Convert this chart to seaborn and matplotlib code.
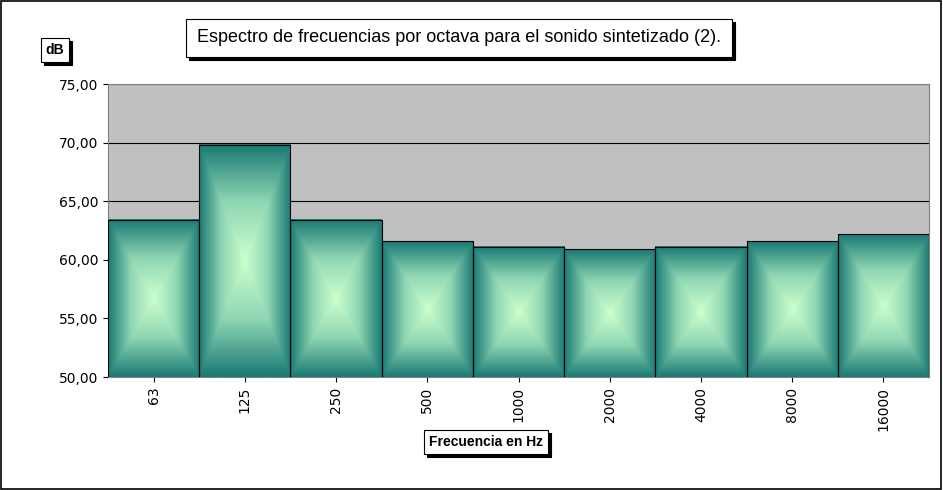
import numpy as np
import pandas as pd
import matplotlib
matplotlib.use("Agg")
import matplotlib.pyplot as plt
import seaborn as sns
from matplotlib.colors import LinearSegmentedColormap
from matplotlib.patches import Rectangle

freqs = ["63", "125", "250", "500", "1000", "2000", "4000", "8000", "16000"]
levels = [63.4, 69.8, 63.4, 61.6, 61.1, 60.9, 61.1, 61.6, 62.2]

df = pd.DataFrame({"freq": freqs, "dB": levels})

fig = plt.figure(figsize=(9.43, 4.9), dpi=100)
fig.patch.set_facecolor("white")
ax = fig.add_axes([108/943, 1 - 377/490, 821/943, 293/490])
ax.set_facecolor("#c0c0c0")

sns.barplot(data=df, x="freq", y="dB", width=1.0, color="#1f7f78",
            edgecolor="black", linewidth=0.8, ax=ax)

ymin, ymax = 50, 75
# box gradient fill: teal edges -> pale green centre
cmap = LinearSegmentedColormap.from_list("g", ["#ccffcc", "#8fd6b4", "#1a7a74"])
n = 200
u = np.linspace(-1, 1, n)
X, Y = np.meshgrid(u, u)
grad = np.maximum(np.abs(X), np.abs(Y))
for p in ax.patches:
    x0, w, top = p.get_x(), p.get_width(), p.get_y() + p.get_height()
    ax.imshow(grad, cmap=cmap, extent=[x0, x0 + w, ymin, top],
              aspect="auto", origin="lower", zorder=2)
    p.set_facecolor("none")
    p.set_zorder(3)

ax.set_ylim(ymin, ymax)
ax.set_xlim(-0.5, len(freqs) - 0.5)
ax.set_aspect("auto")
ax.set_xticks(range(len(freqs)))
ax.set_xticklabels(freqs, rotation=90, fontsize=10)
ax.set_yticks(np.arange(50, 76, 5))
ax.set_yticklabels([f"{v:.2f}".replace(".", ",") for v in np.arange(50, 76, 5)], fontsize=10)
ax.yaxis.grid(True, color="black", linewidth=0.8)
ax.set_axisbelow(True)
ax.set_xlabel("")
ax.set_ylabel("")
for s in ax.spines.values():
    s.set_color("gray")
    s.set_linewidth(0.8)

def boxed(x, y, text, size, bold=False, pad=0.35):
    # shadow
    fig.text(x + 3/943, y - 3/490, text, fontsize=size, fontweight="bold" if bold else "normal",
             ha="center", va="center", family="Liberation Sans", color="none",
             bbox=dict(boxstyle=f"square,pad={pad}", fc="black", ec="black", lw=0.8))
    fig.text(x, y, text, fontsize=size, fontweight="bold" if bold else "normal",
             ha="center", va="center", family="Liberation Sans",
             bbox=dict(boxstyle=f"square,pad={pad}", fc="white", ec="black", lw=0.8))

boxed(459/943, 1 - 38/490, "Espectro de frecuencias por octava para el sonido sintetizado (2).", 13, pad=0.6)
boxed(55/943, 1 - 50/490, "dB", 10, True)
boxed(486/943, 1 - 442/490, "Frecuencia en Hz", 10, True)

fig.add_artist(Rectangle((0.001, 0.002), 0.997, 0.996, transform=fig.transFigure,
                         fill=False, ec="black", lw=1.2))
fig.savefig("out.png", dpi=100)
